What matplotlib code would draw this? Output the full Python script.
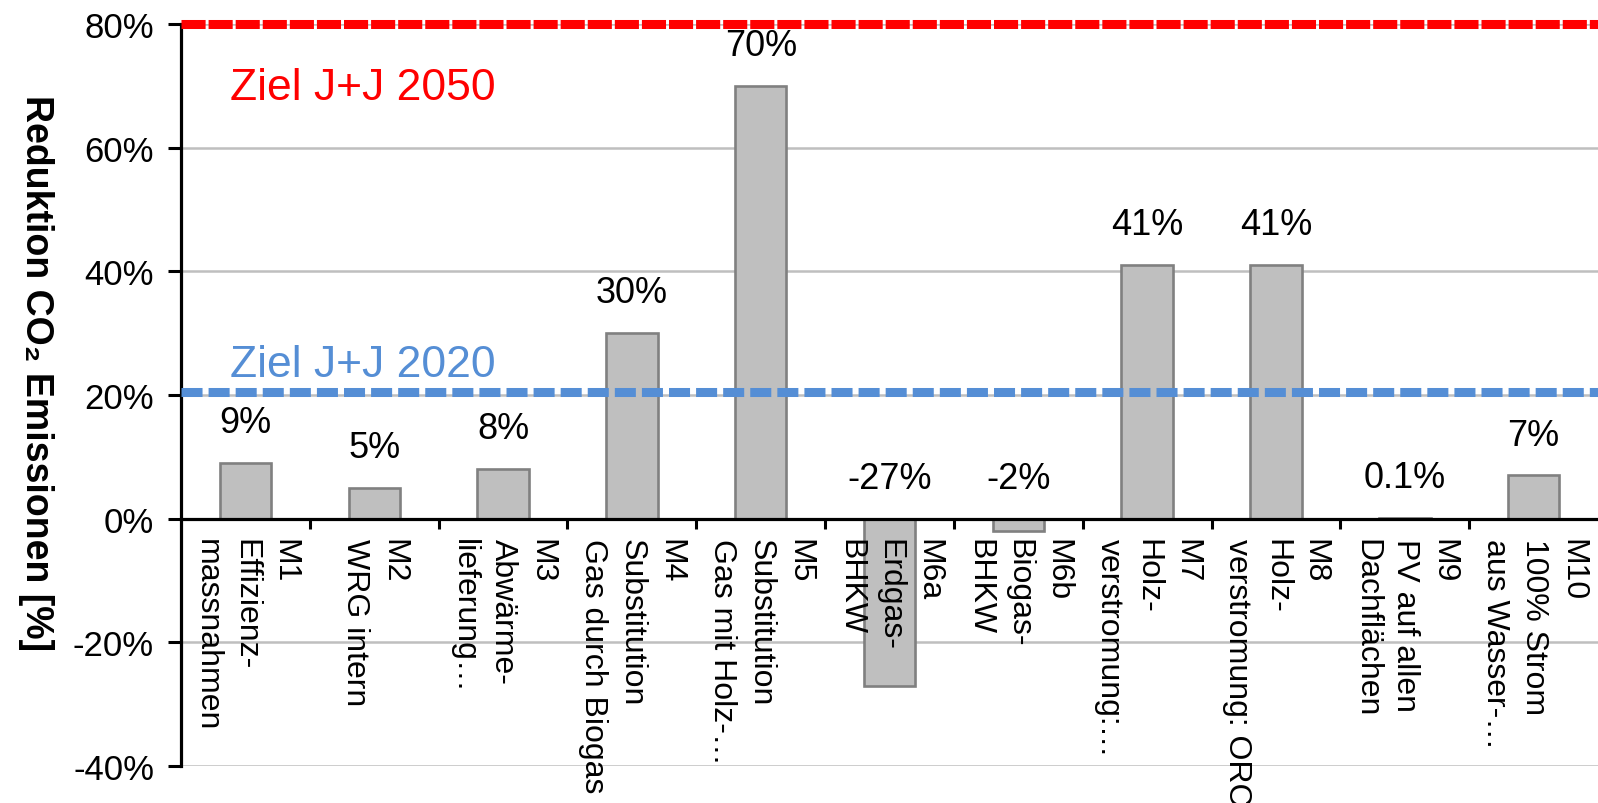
import matplotlib
matplotlib.use("Agg")
import matplotlib.pyplot as plt

plt.rcParams["font.family"] = ["Liberation Sans", "DejaVu Sans"]

# Measures and their CO2 reduction potential (%)
codes = ["M1", "M2", "M3", "M4", "M5", "M6a", "M6b", "M7", "M8", "M9", "M10"]
descriptions = [
    "Effizienz-\nmassnahmen",
    "WRG intern",
    "Abwärme-\nlieferung…",
    "Substitution\nGas durch Biogas",
    "Substitution\nGas mit Holz-…",
    "Erdgas-\nBHKW",
    "Biogas-\nBHKW",
    "Holz-\nverstromung:…",
    "Holz-\nverstromung: ORC",
    "PV auf allen\nDachflächen",
    "100% Strom\naus Wasser-…",
]
reduction = [9, 5, 8, 30, 70, -27, -2, 41, 41, 0.1, 7]
value_labels = ["9%", "5%", "8%", "30%", "70%", "-27%", "-2%", "41%", "41%", "0.1%", "7%"]

# Target levels
target_2050 = 80
target_2020 = 20.5
y_ticks = [-40, -20, 0, 20, 40, 60, 80]

fig = plt.figure(figsize=(15.98, 8.04), dpi=100)
ax = fig.add_axes([0.1133, 0.046, 1.0 - 0.1133, 0.969 - 0.046])

x = list(range(len(codes)))
ax.set_axisbelow(True)
ax.bar(x, reduction, width=0.4, color="#BFBFBF", edgecolor="#808080",
       linewidth=1.9, zorder=2)

ax.set_xlim(-0.5, len(codes) - 0.5)
ax.set_ylim(-40, 80)
ax.set_yticks(y_ticks)
ax.set_yticklabels([f"{t}%" for t in y_ticks], fontsize=25)
ax.yaxis.grid(True, color="#BFBFBF", linewidth=1.8)
ax.tick_params(axis="y", direction="out", length=9.4, width=2.2, pad=10)

# x axis sits on the zero line, ticks separate the categories
ax.spines["bottom"].set_position(("data", 0))
ax.spines["bottom"].set_linewidth(2.3)
ax.spines["left"].set_linewidth(2.3)
ax.spines["top"].set_visible(False)
ax.spines["right"].set_visible(False)
ax.set_xticks([i + 0.5 for i in range(len(codes) - 1)])
ax.set_xticklabels([])
ax.tick_params(axis="x", direction="out", length=7.5, width=2.2)

# category labels, rotated and hanging below the zero line
for i, (c, d) in enumerate(zip(codes, descriptions)):
    ax.annotate(f"{c}\n{d}", xy=(i, 0), xytext=(0, -14), textcoords="offset points",
                rotation=-90, ha="center", va="top", multialignment="left",
                fontsize=23, linespacing=1.38, zorder=5)

# value labels above the bars (above the zero line for negative values)
for i, (v, lab) in enumerate(zip(reduction, value_labels)):
    ax.annotate(lab, xy=(i, max(v, 0)), xytext=(0, 29), textcoords="offset points",
                ha="center", va="center", fontsize=26, zorder=5)

# target lines
ax.axhline(target_2050, color="#FF0000", linewidth=6.5,
           linestyle=(0, (2.67, 0.33)), clip_on=False, zorder=4)
ax.axhline(target_2020, color="#558ED5", linewidth=6.5,
           linestyle=(0, (2.33, 0.67)), clip_on=False, zorder=4)
ax.text(-0.12, 67.9, "Ziel J+J 2050", color="#FF0000", fontsize=32,
        ha="left", va="baseline")
ax.text(-0.12, 23.0, "Ziel J+J 2020", color="#558ED5", fontsize=32,
        ha="left", va="baseline")

fig.text(36 / 1598, 1 - 373 / 804, "Reduktion CO₂ Emissionen [%]", rotation=270,
         ha="center", va="center", fontsize=27, fontweight="bold")

fig.savefig("out.png", dpi=100)
